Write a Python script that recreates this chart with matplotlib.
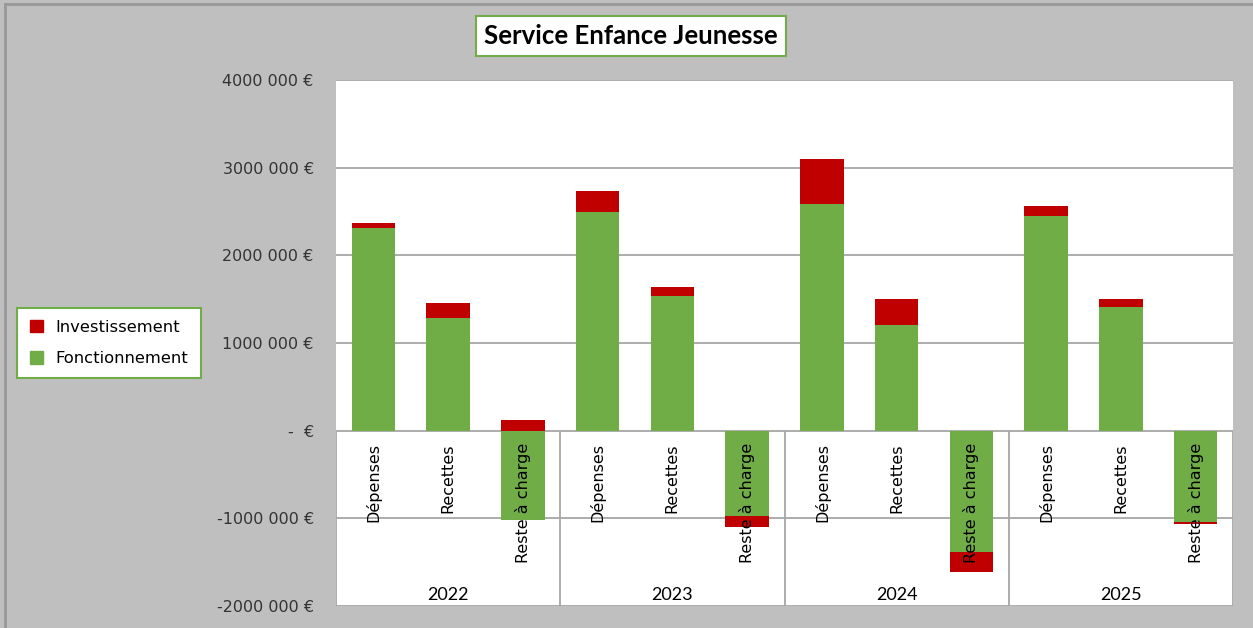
import numpy as np
import matplotlib
matplotlib.use("Agg")
import matplotlib.pyplot as plt
from matplotlib.patches import Patch
from matplotlib.lines import Line2D

# data (euros)
years = ["2022", "2023", "2024", "2025"]
postes = ["Dépenses", "Recettes", "Reste à charge"]
fonctionnement = [2310000, 1290000, -1020000,
                  2490000, 1540000, -970000,
                  2580000, 1210000, -1380000,
                  2450000, 1410000, -1040000]
investissement = [60000, 170000, 120000,
                  240000, 100000, -130000,
                  520000, 290000, -230000,
                  110000, 90000, -20000]
yticks = [-2000000, -1000000, 0, 1000000, 2000000, 3000000, 4000000]

GREEN = "#70AD47"
RED = "#C00000"
GRID = "#A6A6A6"
BG = "#BFBFBF"

W, H = 1253, 628
fig = plt.figure(figsize=(W / 100, H / 100), dpi=100, facecolor=BG)
ax = fig.add_axes([336 / W, 1 - 606 / H, (1233 - 336) / W, (606 - 80) / H])
ax.set_facecolor("white")
for s in ax.spines.values():
    s.set_visible(False)

fonc = np.array(fonctionnement, dtype=float)
inv = np.array(investissement, dtype=float)
x = np.arange(len(fonc))
# excel stacking: positives pile up from 0, negatives pile down from 0
inv_bottom = np.where(np.sign(inv) == np.sign(fonc), fonc, 0)

ax.set_xlim(-0.5, len(x) - 0.5)
ax.set_ylim(yticks[0], yticks[-1])

for t in yticks:
    ax.axhline(t, color=GRID, lw=1.3, zorder=1)
# category table below the axis
ax.vlines([-0.5, 2.5, 5.5, 8.5, 11.5], yticks[0], 0, color=GRID, lw=1.3, zorder=1)

ax.bar(x, fonc, width=0.58, color=GREEN, zorder=2)
ax.bar(x, inv, width=0.58, bottom=inv_bottom, color=RED, zorder=2)


def euro(v):
    if v == 0:
        return "-  €"
    return f"{int(v / 1000000)}000 000 €"


ax.set_yticks(yticks)
ax.set_yticklabels([euro(v) for v in yticks])
ax.set_xticks([])
ax.tick_params(axis="y", length=0, pad=16, labelsize=11.5, labelcolor="#333333")

for i in x:
    ax.annotate(postes[i % 3], (i, 0), xytext=(0, -9), textcoords="offset points",
                rotation=90, ha="center", va="top", fontsize=11.5, color="black", zorder=3)
for k, yr in enumerate(years):
    ax.text(3 * k + 1, -1880000, yr, ha="center", va="center",
            fontsize=13, family="Lato", color="black")

fig.text(631 / W, 1 - 36 / H, "Service Enfance Jeunesse", ha="center", va="center",
         fontsize=18.5, fontweight="bold", family="Lato",
         bbox=dict(boxstyle="square,pad=0.3", fc="white", ec=GREEN, lw=1.5))

handles = [Patch(color=RED, label="Investissement"),
           Patch(color=GREEN, label="Fonctionnement")]
leg = fig.legend(handles=handles, loc="center", bbox_to_anchor=(109 / W, 1 - 343 / H),
                 fontsize=11.8, frameon=True, fancybox=False, framealpha=1,
                 handlelength=0.8, handleheight=0.8, labelspacing=1.0,
                 borderpad=0.75, handletextpad=0.8)
leg.get_frame().set_edgecolor(GREEN)
leg.get_frame().set_linewidth(1.5)

# outer chart frame (top and left edges visible)
fig.add_artist(Line2D([5 / W, 5 / W], [0, 1 - 4 / H], transform=fig.transFigure,
                      color="#999999", lw=2))
fig.add_artist(Line2D([5 / W, 1], [1 - 4 / H, 1 - 4 / H], transform=fig.transFigure,
                      color="#999999", lw=2))

fig.savefig("out.png", dpi=100, facecolor=BG)
